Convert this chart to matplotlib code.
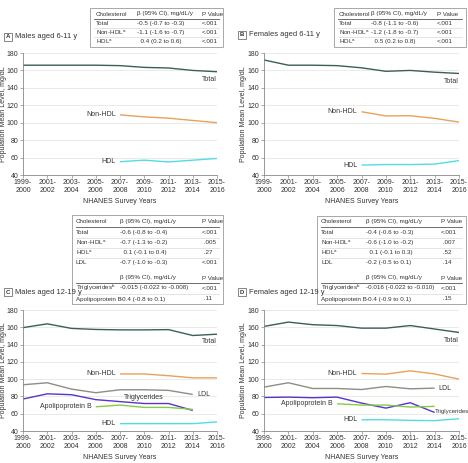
import matplotlib
matplotlib.use("Agg")
import matplotlib.pyplot as plt
from matplotlib.lines import Line2D
from matplotlib.patches import Rectangle

plt.rcParams['font.family'] = ['Liberation Sans Narrow', 'Liberation Sans', 'DejaVu Sans']
plt.rcParams['mathtext.fontset'] = 'custom'
plt.rcParams['mathtext.rm'] = 'Liberation Sans'

years = ["1999-\n2000", "2001-\n2002", "2003-\n2004", "2005-\n2006", "2007-\n2008",
         "2009-\n2010", "2011-\n2012", "2013-\n2014", "2015-\n2016"]

# Panel A: Males 6-11
a_total = [166, 166, 166, 166, 165.5, 163.5, 162.8, 160, 158.5]
a_nonhdl = [109, 106.7, 105.2, 102.6, 100]
a_hdl = [55.3, 57, 55, 57, 59]
# Panel B: Females 6-11
b_total = [172, 166, 166, 165.5, 163, 159, 160, 158, 156.5]
b_nonhdl = [112.6, 107.8, 108, 105, 100.7]
b_hdl = [51.4, 52, 52, 52.5, 56.5]
# Panel C: Males 12-19
c_total = [159.6, 164, 158.7, 157.5, 157, 157, 157.3, 150.5, 152]
c_nonhdl = [106, 106, 104, 101.5, 101.5]
c_ldl = [93.5, 95.8, 88.5, 84.3, 87.7, 87.7, 87, 82.3]
c_trig = [77, 83, 82, 76.3, 74, 71.8, 71.8, 63.8]
c_apob = [68, 70, 67.3, 67.3, 65]
c_hdl = [48.5, 48.5, 48.5, 48.5, 50.5]
# Panel D: Females 12-19
d_total = [161, 166, 163, 162, 159, 159, 162, 158, 154]
d_nonhdl = [106.5, 105.8, 109.6, 106, 100]
d_ldl = [90.8, 95.8, 89.2, 89.2, 88, 91.5, 88.8, 89.6]
d_trig = [78.8, 79.2, 78.5, 79.2, 72.3, 66.5, 72.7, 61.5]
d_apob = [71.5, 70, 70, 67.7, 68.5]
d_hdl = [53, 53, 52.3, 52, 54.2]

tab_a = [["Total", "-0.5 (-0.7 to -0.3)", "<.001"],
         ["Non-HDL$^{\\mathrm{a}}$", "-1.1 (-1.6 to -0.7)", "<.001"],
         ["HDL$^{\\mathrm{a}}$", "  0.4 (0.2 to 0.6)", "<.001"]]
tab_b = [["Total", "-0.8 (-1.1 to -0.6)", "<.001"],
         ["Non-HDL$^{\\mathrm{a}}$", "-1.2 (-1.8 to -0.7)", "<.001"],
         ["HDL$^{\\mathrm{a}}$", "  0.5 (0.2 to 0.8)", "<.001"]]
tab_c1 = [["Total", "-0.6 (-0.8 to -0.4)", "<.001"],
          ["Non-HDL$^{\\mathrm{a}}$", "-0.7 (-1.3 to -0.2)", " .005"],
          ["HDL$^{\\mathrm{a}}$", "  0.1 (-0.1 to 0.4)", " .27"],
          ["LDL", "-0.7 (-1.0 to -0.3)", "<.001"]]
tab_c2 = [["Triglycerides$^{\\mathrm{b}}$", "-0.015 (-0.022 to -0.008)", "<.001"],
          ["Apolipoprotein B", "-0.4 (-0.8 to 0.1)", " .11"]]
tab_d1 = [["Total", "-0.4 (-0.6 to -0.3)", "<.001"],
          ["Non-HDL$^{\\mathrm{a}}$", "-0.6 (-1.0 to -0.2)", " .007"],
          ["HDL$^{\\mathrm{a}}$", "  0.1 (-0.1 to 0.3)", " .52"],
          ["LDL", "-0.2 (-0.5 to 0.1)", " .14"]]
tab_d2 = [["Triglycerides$^{\\mathrm{b}}$", "-0.016 (-0.022 to -0.010)", "<.001"],
          ["Apolipoprotein B", "-0.4 (-0.9 to 0.1)", " .15"]]

C_TOTAL = "#3b5e5b"
C_NON = "#e9a05c"
C_HDL = "#52dde6"
C_LDL = "#8f8d84"
C_TRIG = "#5a33c8"
C_APOB = "#84cc48"
TXT = "#333333"

W, H = 468, 463
fig = plt.figure(figsize=(W / 100, H / 100), dpi=100)

def fx(x):
    return x / W

def fy(y):
    return 1 - y / H

FS = 5.0
TFS = 4.5

def make_ax(x0, x1, ytop, ybot):
    ax = fig.add_axes([fx(x0), fy(ybot), fx(x1) - fx(x0), fy(ytop) - fy(ybot)])
    ax.set_xlim(0, 8)
    ax.set_ylim(40, 180)
    ax.set_yticks(range(40, 181, 20))
    ax.set_xticks(range(9))
    ax.set_xticklabels(years, fontsize=FS, color=TXT, linespacing=1.1)
    ax.tick_params(axis='y', labelsize=FS, labelcolor=TXT, length=2, width=0.5, color="#888888", pad=1.5)
    ax.tick_params(axis='x', length=2, width=0.5, color="#888888", pad=1.0)
    for s in ["top", "right"]:
        ax.spines[s].set_visible(False)
    for s in ["left", "bottom"]:
        ax.spines[s].set_color("#888888")
        ax.spines[s].set_linewidth(0.6)
    ax.grid(axis='y', color="#e2e2e2", linewidth=0.5)
    ax.set_axisbelow(True)
    ax.set_xlabel("NHANES Survey Years", fontsize=FS, color=TXT, labelpad=3)
    ax.set_ylabel("Population Mean Level, mg/dL", fontsize=FS, color=TXT)
    ax.yaxis.set_label_coords(-0.085, 0.5)
    return ax

def series(ax, start, vals, color, lw=1.0):
    xs = list(range(start, start + len(vals)))
    ax.plot(xs, vals, color=color, lw=lw, solid_capstyle='butt')
    return xs

def label(ax, x, y, s, ha='left', va='center', dx=0, dy=0, fs=FS):
    ax.annotate(s, (x, y), xytext=(dx, dy), textcoords='offset points',
                fontsize=fs, color=TXT, ha=ha, va=va)

def panel_label(x, y, letter, text):
    fig.text(fx(x), fy(y), letter, fontsize=4.3, color=TXT, ha='center', va='center',
             fontweight='bold',
             bbox=dict(boxstyle='square,pad=0.3', fc='white', ec='#555555', lw=0.5))
    fig.text(fx(x + 7), fy(y), text, fontsize=5.4, color=TXT, ha='left', va='center')

def draw_table(x0, x1, ytop, colx, header_y, rows_y, rows, row_step, extra=None):
    ybot = extra[3] if extra else rows_y + row_step * (len(rows) - 1) + 5.5
    fig.patches.append(Rectangle((fx(x0), fy(ybot)), fx(x1) - fx(x0), fy(ytop) - fy(ybot),
                                 transform=fig.transFigure, fc='white', ec='#9a9a9a', lw=0.6))
    def hline(y, c, lw):
        fig.lines.append(Line2D([fx(x0 + 4), fx(x1 - 4)], [fy(y), fy(y)],
                                transform=fig.transFigure, color=c, lw=lw))
    heads = ["Cholesterol", "\u03b2 (95% CI), mg/dL/y", "P Value"]
    for cx, h in zip(colx, heads):
        fig.text(fx(cx), fy(header_y), h, fontsize=TFS, color=TXT, ha='left', va='center')
    hline(header_y + 5, '#555555', 0.6)
    for i, r in enumerate(rows):
        y = rows_y + i * row_step
        for cx, v in zip(colx, r):
            fig.text(fx(cx), fy(y), v, fontsize=TFS, color=TXT, ha='left', va='center')
        if i < len(rows) - 1:
            hline(y + row_step / 2, '#cfcfcf', 0.4)
    if extra:
        rows2, h2y, r2y, _ = extra
        fig.text(fx(colx[1]), fy(h2y), heads[1], fontsize=TFS, color=TXT, ha='left', va='center')
        fig.text(fx(colx[2]), fy(h2y), heads[2], fontsize=TFS, color=TXT, ha='left', va='center')
        hline(h2y + 5, '#555555', 0.6)
        for i, r in enumerate(rows2):
            y = r2y + i * 11
            for cx, v in zip(colx, r):
                fig.text(fx(cx), fy(y), v, fontsize=TFS, color=TXT, ha='left', va='center')
            if i < len(rows2) - 1:
                hline(y + 5.5, '#cfcfcf', 0.4)

# ---- Panel A
axA = make_ax(23, 217, 53, 175)
xs = series(axA, 0, a_total, C_TOTAL)
label(axA, xs[-1], a_total[-1], "Total", ha='right', va='top', dy=-3)
xs = series(axA, 4, a_nonhdl, C_NON)
label(axA, xs[0], a_nonhdl[0], "Non-HDL", ha='right', dx=-3)
xs = series(axA, 4, a_hdl, C_HDL)
label(axA, xs[0], a_hdl[0], "HDL", ha='right', dx=-3)
panel_label(8, 37, "A", "Males aged 6-11 y")
draw_table(90, 223, 8, [96, 137, 202], 14, 23.5, tab_a, 9.2)

# ---- Panel B
axB = make_ax(264, 459, 53, 175)
xs = series(axB, 0, b_total, C_TOTAL)
label(axB, xs[-1], b_total[-1], "Total", ha='right', va='top', dy=-3)
xs = series(axB, 4, b_nonhdl, C_NON)
label(axB, xs[0], b_nonhdl[0], "Non-HDL", ha='right', dx=-3)
xs = series(axB, 4, b_hdl, C_HDL)
label(axB, xs[0], b_hdl[0], "HDL", ha='right', dx=-3)
panel_label(242, 35, "B", "Females aged 6-11 y")
draw_table(334, 466, 8, [339, 371, 437], 14, 23.5, tab_b, 9.2)

# ---- Panel C
axC = make_ax(23, 217, 310, 431)
xs = series(axC, 0, c_total, C_TOTAL)
label(axC, xs[-1], c_total[-1], "Total", ha='right', va='top', dy=-3)
xs = series(axC, 4, c_nonhdl, C_NON)
label(axC, xs[0], c_nonhdl[0], "Non-HDL", ha='right', dx=-3)
xs = series(axC, 0, c_ldl, C_LDL)
label(axC, xs[-1], c_ldl[-1], "LDL", ha='left', dx=3)
xs = series(axC, 0, c_trig, C_TRIG)
label(axC, xs[5], c_trig[5], "Triglycerides", ha='center', va='bottom', dy=1.5)
xs = series(axC, 3, c_apob, C_APOB)
label(axC, xs[0], c_apob[0], "Apolipoprotein B", ha='right', dx=-3)
xs = series(axC, 4, c_hdl, C_HDL)
label(axC, xs[0], c_hdl[0], "HDL", ha='right', dx=-3)
panel_label(8, 292, "C", "Males aged 12-19 y")
draw_table(72, 223, 215, [76, 120, 202], 222, 233, tab_c1, 9.8,
           extra=(tab_c2, 278, 288, 304))

# ---- Panel D
axD = make_ax(264, 459, 310, 431)
xs = series(axD, 0, d_total, C_TOTAL)
label(axD, xs[-1], d_total[-1], "Total", ha='right', va='top', dy=-3)
xs = series(axD, 4, d_nonhdl, C_NON)
label(axD, xs[0], d_nonhdl[0], "Non-HDL", ha='right', dx=-3)
xs = series(axD, 0, d_ldl, C_LDL)
label(axD, xs[-1], d_ldl[-1], "LDL", ha='left', dx=3)
xs = series(axD, 0, d_trig, C_TRIG)
label(axD, xs[-1], d_trig[-1], "Triglycerides", ha='left', va='center', dx=0, dy=1, fs=4.4)
xs = series(axD, 3, d_apob, C_APOB)
label(axD, xs[0], d_apob[0], "Apolipoprotein B", ha='right', dx=-3)
xs = series(axD, 4, d_hdl, C_HDL)
label(axD, xs[0], d_hdl[0], "HDL", ha='right', dx=-3)
panel_label(242, 292, "D", "Females aged 12-19 y")
draw_table(317, 466, 216, [321, 366, 441], 222, 233, tab_d1, 9.8,
           extra=(tab_d2, 278, 288, 304))

fig.savefig("out.png", dpi=100, facecolor='white')
